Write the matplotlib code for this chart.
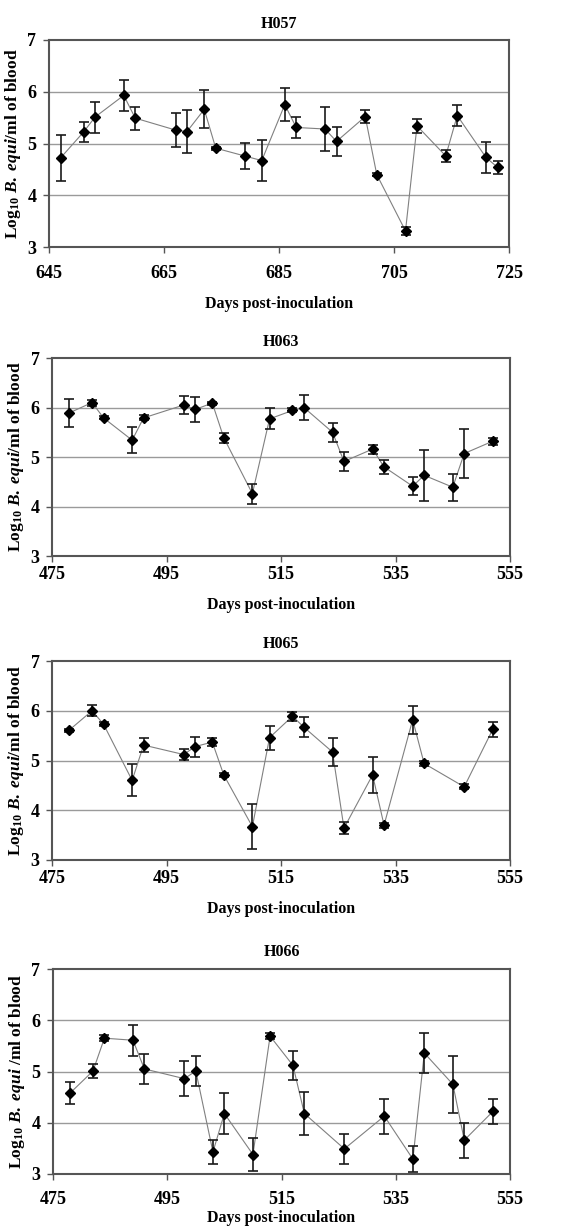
import numpy as np
import matplotlib
matplotlib.use("Agg")
import matplotlib.pyplot as plt

plt.rcParams['font.family'] = ['Liberation Serif', 'DejaVu Serif']
plt.rcParams['font.weight'] = 'bold'
plt.rcParams['mathtext.fontset'] = 'custom'
plt.rcParams['mathtext.rm'] = 'Liberation Serif:bold'
plt.rcParams['mathtext.it'] = 'Liberation Serif:italic:bold'
plt.rcParams['mathtext.bf'] = 'Liberation Serif:bold'

# H057
h057_day = [647, 651, 653, 658, 660, 667, 669, 672, 674, 679, 682, 686, 688,
            693, 695, 700, 702, 707, 709, 714, 716, 721, 723]
h057_val = [4.72, 5.22, 5.51, 5.93, 5.49, 5.26, 5.23, 5.66, 4.91, 4.76, 4.67, 5.75, 5.31,
            5.28, 5.04, 5.52, 4.40, 3.31, 5.34, 4.76, 5.54, 4.73, 4.54]
h057_err = [0.45, 0.20, 0.30, 0.30, 0.22, 0.33, 0.42, 0.37, 0.03, 0.25, 0.40, 0.32, 0.20,
            0.42, 0.28, 0.13, 0.03, 0.07, 0.13, 0.12, 0.20, 0.30, 0.12]

# H063
h063_day = [478, 482, 484, 489, 491, 498, 500, 503, 505, 510, 513, 517, 519,
            524, 526, 531, 533, 538, 540, 545, 547, 552]
h063_val = [5.89, 6.10, 5.79, 5.34, 5.79, 6.05, 5.96, 6.09, 5.39, 4.26, 5.77, 5.94, 6.00,
            5.50, 4.91, 5.16, 4.80, 4.41, 4.63, 4.39, 5.07, 5.32]
h063_err = [0.28, 0.06, 0.03, 0.26, 0.05, 0.19, 0.25, 0.03, 0.10, 0.20, 0.21, 0.04, 0.26,
            0.19, 0.20, 0.09, 0.14, 0.18, 0.52, 0.27, 0.49, 0.07]

# H065
h065_day = [478, 482, 484, 489, 491, 498, 500, 503, 505, 510, 513, 517, 519,
            524, 526, 531, 533, 538, 540, 547, 552]
h065_val = [5.61, 6.00, 5.73, 4.60, 5.31, 5.12, 5.28, 5.37, 4.71, 3.67, 5.46, 5.89, 5.67,
            5.17, 3.64, 4.71, 3.70, 5.82, 4.94, 4.47, 5.63]
h065_err = [0.03, 0.11, 0.04, 0.32, 0.14, 0.11, 0.20, 0.08, 0.04, 0.45, 0.24, 0.09, 0.20,
            0.28, 0.12, 0.37, 0.05, 0.28, 0.05, 0.05, 0.15]

# H066
h066_day = [478, 482, 484, 489, 491, 498, 500, 503, 505, 510, 513, 517, 519,
            526, 533, 538, 540, 545, 547, 552]
h066_val = [4.58, 5.01, 5.65, 5.61, 5.05, 4.86, 5.01, 3.43, 4.18, 3.38, 5.69, 5.12, 4.18,
            3.49, 4.13, 3.29, 5.36, 4.75, 3.66, 4.22]
h066_err = [0.22, 0.14, 0.06, 0.30, 0.30, 0.34, 0.30, 0.24, 0.40, 0.33, 0.06, 0.28, 0.42,
            0.30, 0.34, 0.26, 0.39, 0.55, 0.34, 0.24]

W, H = 569, 1229

def rect(l, r, t, b):
    return [l / W, 1 - b / H, (r - l) / W, (b - t) / H]

ylab_a = 'Log$_{10}$ $\\mathit{B.}$ $\\mathit{equi}$/ml of blood'
ylab_b = 'Log$_{10}$ $\\mathit{B.}$ $\\mathit{equi}$ /ml of blood'

# name, days, values, errors, x range, axes box, tick pad, label pad, y label
panels = [
    ('H057', h057_day, h057_val, h057_err, (645, 725), rect(49, 509, 40, 247), 9, 10, ylab_a),
    ('H063', h063_day, h063_val, h063_err, (475, 555), rect(52, 510, 358, 556), 3, 10, ylab_a),
    ('H065', h065_day, h065_val, h065_err, (475, 555), rect(52, 510, 661, 860), 3, 10, ylab_a),
    ('H066', h066_day, h066_val, h066_err, (475, 555), rect(53, 510, 969, 1174), 8, 2, ylab_b),
]

fig = plt.figure(figsize=(W / 100, H / 100), dpi=100)

for name, day, val, err, xl, pos, xpad, lpad, ylab in panels:
    ax = fig.add_axes(pos)
    ax.set_xlim(*xl)
    ax.set_ylim(3, 7)
    ax.set_xticks(np.arange(xl[0], xl[1] + 1, 20))
    ax.set_yticks([3, 4, 5, 6, 7])
    for g in [4, 5, 6]:
        ax.axhline(g, color='#9a9a9a', lw=1.0, zorder=0)
    ax.plot(day, val, color='#808080', lw=0.8, zorder=1)
    ax.errorbar(day, val, yerr=err, fmt='none', ecolor='#1a1a1a', elinewidth=1.2,
                capsize=3.5, capthick=1.2, zorder=2)
    ax.plot(day, val, 'D', color='black', ms=4.8, zorder=3)
    for s in ax.spines.values():
        s.set_color('#555555')
        s.set_linewidth(1.5)
    ax.tick_params(axis='x', direction='out', length=4, width=1, color='#555555',
                   labelsize=13, pad=xpad)
    ax.tick_params(axis='y', direction='out', length=4, width=1, color='#555555',
                   labelsize=13, pad=5)
    ax.set_title(name, fontsize=11.5, fontweight='bold', pad=9)
    ax.set_xlabel('Days post-inoculation', fontsize=11.5, fontweight='bold', labelpad=lpad)
    ax.set_ylabel(ylab, fontsize=12.5, fontweight='bold', labelpad=3)

fig.savefig('out.png', dpi=100)
